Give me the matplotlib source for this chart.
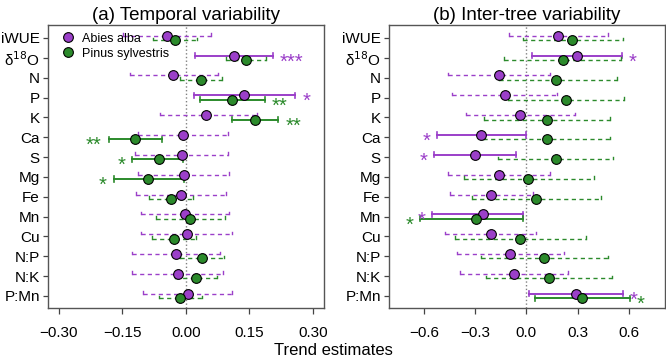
import numpy as np
import matplotlib
matplotlib.use("Agg")
import matplotlib.pyplot as plt

plt.rcParams['font.family'] = ['Liberation Sans', 'DejaVu Sans']

# Row labels, top to bottom
labels = ['iWUE', '\u03b4$^{18}$O', 'N', 'P', 'K', 'Ca', 'S', 'Mg', 'Fe', 'Mn',
          'Cu', 'N:P', 'N:K', 'P:Mn']

# (a) Temporal variability -- Abies alba
a_abies_est = [-0.045, 0.114, -0.030, 0.138, 0.047, -0.007, -0.010, -0.005, -0.012, -0.001,
               0.002, -0.024, -0.019, 0.004]
a_abies_lo = [-0.149, 0.022, -0.131, 0.019, -0.062, -0.112, -0.120, -0.112, -0.117, -0.105,
              -0.105, -0.127, -0.126, -0.100]
a_abies_hi = [0.059, 0.206, 0.077, 0.258, 0.167, 0.099, 0.099, 0.102, 0.094, 0.102,
              0.110, 0.081, 0.088, 0.110]
a_abies_sig = ['', '***', '', '*', '', '', '', '', '', '', '', '', '', '']

# (a) Temporal variability -- Pinus sylvestris
a_pinus_est = [-0.026, 0.142, 0.036, 0.110, 0.163, -0.120, -0.064, -0.089, -0.036, 0.011,
               -0.029, 0.037, 0.024, -0.014]
a_pinus_lo = [-0.078, 0.095, -0.013, 0.034, 0.108, -0.182, -0.126, -0.170, -0.086, -0.071,
              -0.080, -0.014, -0.025, -0.064]
a_pinus_hi = [0.027, 0.189, 0.086, 0.187, 0.218, -0.055, -0.006, -0.005, 0.016, 0.092,
              0.024, 0.090, 0.074, 0.038]
a_pinus_sig = ['', '', '', '**', '**', '**', '*', '*', '', '', '', '', '', '']

# (b) Inter-tree variability -- Abies alba
b_abies_est = [0.188, 0.295, -0.161, -0.128, -0.036, -0.265, -0.302, -0.161, -0.206, -0.255,
               -0.210, -0.095, -0.075, 0.290]
b_abies_lo = [-0.103, 0.034, -0.460, -0.436, -0.354, -0.522, -0.540, -0.460, -0.450, -0.551,
              -0.479, -0.407, -0.391, 0.013]
b_abies_hi = [0.481, 0.561, 0.139, 0.181, 0.282, -0.005, -0.062, 0.139, 0.038, -0.021,
              0.056, 0.220, 0.243, 0.567]
b_abies_sig = ['', '*', '', '', '', '*', '*', '', '', '*', '', '', '', '*']

# (b) Inter-tree variability -- Pinus sylvestris
b_pinus_est = [0.270, 0.212, 0.175, 0.231, 0.122, 0.118, 0.171, 0.012, 0.057, -0.296,
               -0.036, 0.104, 0.130, 0.325]
b_pinus_lo = [-0.019, -0.130, -0.159, -0.106, -0.249, -0.253, -0.169, -0.368, -0.319, -0.622,
              -0.416, -0.268, -0.239, 0.048]
b_pinus_hi = [0.567, 0.557, 0.532, 0.569, 0.491, 0.487, 0.510, 0.395, 0.438, -0.021,
              0.348, 0.481, 0.502, 0.606]
b_pinus_sig = ['', '', '', '', '', '', '', '', '', '*', '', '', '', '*']

purple = '#9b3fc9'
green = '#2b8a2b'


def draw_series(ax, y, est, lo, hi, sig, color, xspan):
    cap = 0.13
    for yi, e, l, h, s in zip(y, est, lo, hi, sig):
        if s:
            ax.plot([l, h], [yi, yi], color=color, lw=1.4, zorder=2)
            ax.plot([l, l], [yi - cap, yi + cap], color=color, lw=1.2, zorder=2)
            ax.plot([h, h], [yi - cap, yi + cap], color=color, lw=1.2, zorder=2)
            gap = xspan * 0.025
            if e > 0:
                ax.text(h + gap, yi + 0.32, s, color=color, ha='left', va='center',
                        fontsize=14.5)
            else:
                ax.text(l - gap, yi + 0.32, s, color=color, ha='right', va='center',
                        fontsize=14.5)
        else:
            ax.plot([l, h], [yi, yi], color=color, lw=1.0, ls=(0, (3, 2.5)), zorder=2)
            ax.plot([l, l], [yi - cap, yi], color=color, lw=1.0, zorder=2)
            ax.plot([h, h], [yi - cap, yi], color=color, lw=1.0, zorder=2)
        ax.plot(e, yi, 'o', ms=7, mfc=color, mec='black', mew=0.8, zorder=3)


def setup_panel(ax, title, xlim, ticks, ticklabels):
    ax.axvline(0, color='gray', ls=':', lw=1.0, zorder=1)
    ax.set_xlim(xlim)
    ax.set_ylim(13.6, -0.65)
    ax.set_yticks(np.arange(len(labels)))
    ax.set_yticklabels(labels, fontsize=11)
    ax.set_xticks(ticks)
    ax.set_xticklabels(ticklabels, fontsize=11)
    ax.tick_params(axis='y', length=3.8, width=0.9, color='#444444', pad=2)
    ax.tick_params(axis='x', length=4, width=0.9, color='#444444', pad=9)
    for sp in ax.spines.values():
        sp.set_color('#555555')
        sp.set_linewidth(1.0)
    ax.set_title(title, fontsize=13.5, pad=4)


def main():
    fig = plt.figure(figsize=(6.66, 3.58), dpi=100)
    ax1 = fig.add_axes([0.072, 0.140, 0.414, 0.790])
    ax2 = fig.add_axes([0.584, 0.140, 0.414, 0.790])

    rows = np.arange(len(labels))
    off = 0.11

    draw_series(ax1, rows - off, a_abies_est, a_abies_lo, a_abies_hi, a_abies_sig, purple, 0.65)
    draw_series(ax1, rows + off, a_pinus_est, a_pinus_lo, a_pinus_hi, a_pinus_sig, green, 0.65)
    setup_panel(ax1, '(a) Temporal variability', (-0.325, 0.325),
                [-0.30, -0.15, 0.0, 0.15, 0.30],
                ['\u22120.30', '\u22120.15', '0.00', '0.15', '0.30'])

    draw_series(ax2, rows - off, b_abies_est, b_abies_lo, b_abies_hi, b_abies_sig, purple, 1.62)
    draw_series(ax2, rows + off, b_pinus_est, b_pinus_lo, b_pinus_hi, b_pinus_sig, green, 1.62)
    setup_panel(ax2, '(b) Inter-tree variability', (-0.805, 0.81),
                [-0.6, -0.3, 0.0, 0.3, 0.6],
                ['\u22120.6', '\u22120.3', '0.0', '0.3', '0.6'])

    # legend in panel (a)
    h1, = ax1.plot([], [], 'o', ms=7, mfc=purple, mec='black', mew=0.8, label='Abies alba')
    h2, = ax1.plot([], [], 'o', ms=7, mfc=green, mec='black', mew=0.8, label='Pinus sylvestris')
    ax1.legend(handles=[h1, h2], loc='upper left', frameon=False, fontsize=9,
               handletextpad=0.1, borderaxespad=0.2, labelspacing=0.25)

    fig.text(0.5, 0.022, 'Trend estimates', ha='center', va='center', fontsize=12)

    plt.savefig("out.png", dpi=100)


if __name__ == "__main__":
    main()
